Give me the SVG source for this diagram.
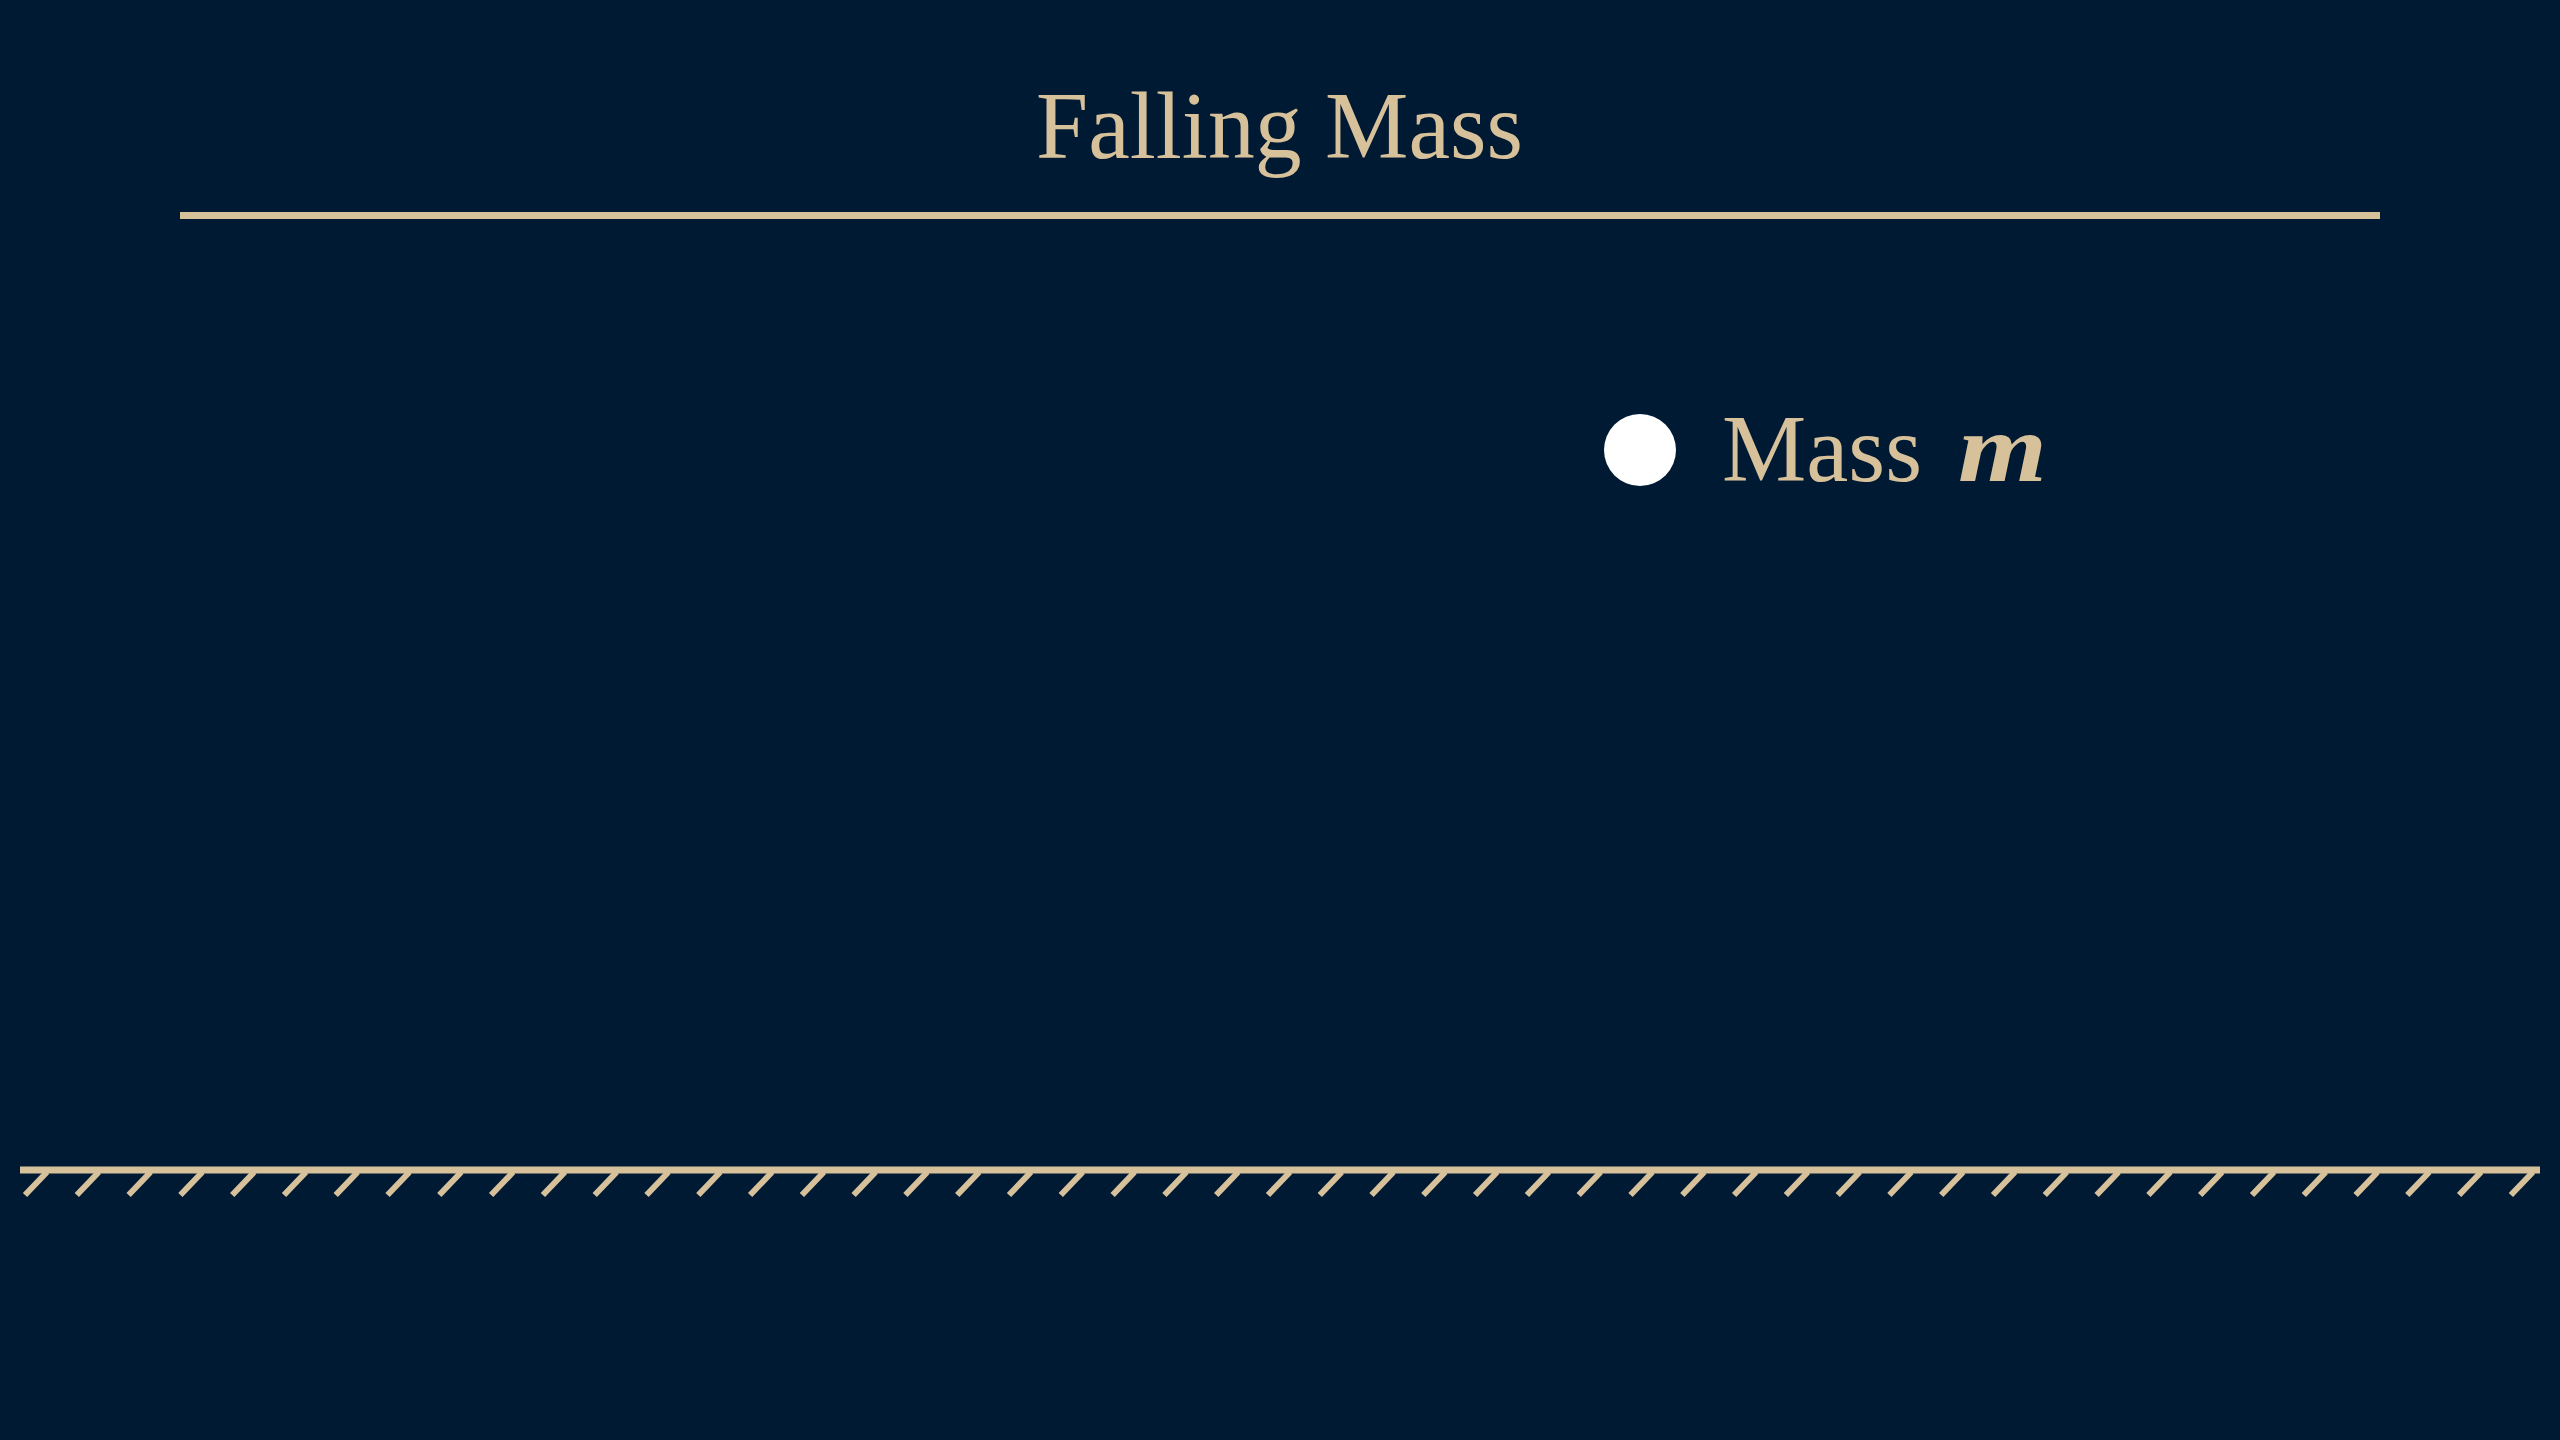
<svg xmlns="http://www.w3.org/2000/svg" width="2560" height="1440" viewBox="0 0 2560 1440">
<style>
.tan{fill:#d7c19b;font-family:"Liberation Serif","DejaVu Serif",serif}
.ln{stroke:#d7c19b;stroke-width:7;fill:none}
.hatch{stroke:#d7c19b;stroke-width:6;fill:none}
</style>
<rect width="2560" height="1440" fill="#011a33"/>
<g id="title">
<text class="tan" x="1036" y="158" font-size="95" textLength="487" lengthAdjust="spacingAndGlyphs">Falling Mass</text>
<line class="ln" x1="180" y1="215.5" x2="2380" y2="215.5"/>
</g>
<g id="mass">
<circle cx="1640" cy="450" r="36" fill="#ffffff"/>
<text class="tan" x="1722" y="481" font-size="95" textLength="200" lengthAdjust="spacingAndGlyphs">Mass</text>
<text class="tan" x="1958" y="481" font-size="98" font-weight="bold" font-style="italic" textLength="89" lengthAdjust="spacingAndGlyphs">m</text>
</g>
<g id="ground">
<line class="ln" x1="20" y1="1170" x2="2540" y2="1170"/>
<path class="hatch" d="M47 1172l-22 23M98.8 1172l-22 23M150.6 1172l-22 23M202.4 1172l-22 23M254.2 1172l-22 23M306 1172l-22 23M357.7 1172l-22 23M409.5 1172l-22 23M461.3 1172l-22 23M513.1 1172l-22 23M564.9 1172l-22 23M616.7 1172l-22 23M668.5 1172l-22 23M720.3 1172l-22 23M772.1 1172l-22 23M823.9 1172l-22 23M875.6 1172l-22 23M927.4 1172l-22 23M979.2 1172l-22 23M1031 1172l-22 23M1082.8 1172l-22 23M1134.6 1172l-22 23M1186.4 1172l-22 23M1238.2 1172l-22 23M1290 1172l-22 23M1341.8 1172l-22 23M1393.5 1172l-22 23M1445.3 1172l-22 23M1497.1 1172l-22 23M1548.9 1172l-22 23M1600.7 1172l-22 23M1652.5 1172l-22 23M1704.3 1172l-22 23M1756.1 1172l-22 23M1807.9 1172l-22 23M1859.7 1172l-22 23M1911.4 1172l-22 23M1963.2 1172l-22 23M2015 1172l-22 23M2066.8 1172l-22 23M2118.6 1172l-22 23M2170.4 1172l-22 23M2222.2 1172l-22 23M2274 1172l-22 23M2325.8 1172l-22 23M2377.6 1172l-22 23M2429.3 1172l-22 23M2481.1 1172l-22 23M2532.9 1172l-22 23"/>
</g>
</svg>
